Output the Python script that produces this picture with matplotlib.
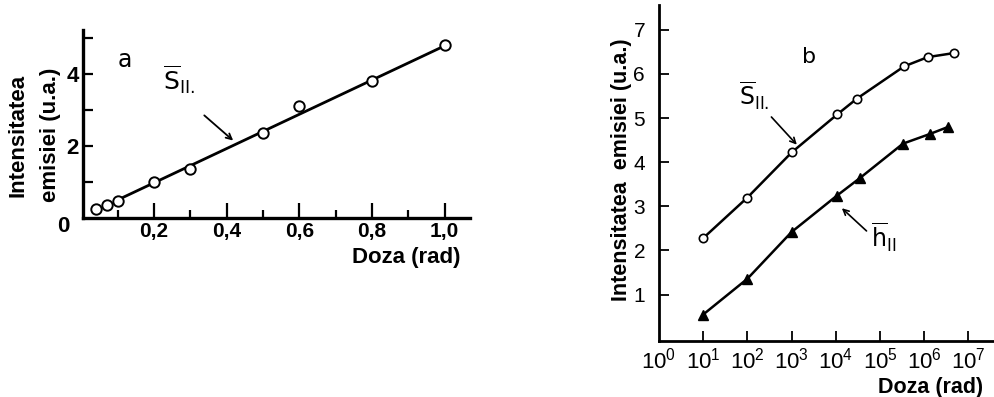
import matplotlib
matplotlib.use("Agg")
import matplotlib.pyplot as plt
from matplotlib.ticker import FixedLocator, NullLocator

# panel a: emission intensity vs dose (linear)
a_dose = [0.04, 0.07, 0.1, 0.2, 0.3, 0.5, 0.6, 0.8, 1.0]
a_s = [0.25, 0.35, 0.48, 1.0, 1.36, 2.35, 3.1, 3.8, 4.8]
a_fit_dose = [0.1, 1.0]
a_fit_s = [0.5, 4.78]
a_xticks = [0.2, 0.4, 0.6, 0.8, 1.0]
a_xticklabels = ["0,2", "0,4", "0,6", "0,8", "1,0"]
a_yticks = [2, 4]

# panel b: emission intensity vs dose (log)
b_dose_s = [1e1, 1e2, 1e3, 1.07e4, 3.0e4, 3.5e5, 1.2e6, 4.6e6]
b_s = [2.28, 3.2, 4.22, 5.08, 5.44, 6.17, 6.38, 6.47]
b_dose_h = [1e1, 1e2, 1e3, 1.05e4, 3.5e4, 3.3e5, 1.35e6, 3.5e6]
b_h = [0.55, 1.36, 2.42, 3.24, 3.64, 4.42, 4.64, 4.8]
b_xticks = [1e1, 1e2, 1e3, 1e4, 1e5, 1e6, 1e7]
b_xlabel_pos = [1e0, 1e1, 1e2, 1e3, 1e4, 1e5, 1e6, 1e7]
b_yticks = [1, 2, 3, 4, 5, 6, 7]

BOLD = "Liberation Sans"
THIN = "Liberation Sans"

W, H = 995, 397
fig = plt.figure(figsize=(W / 100, H / 100), dpi=100)
fig.patch.set_facecolor("white")


def px(x0, y0, x1, y1):
    # pixel box -> figure fraction rect
    return [x0 / W, 1 - y1 / H, (x1 - x0) / W, (y1 - y0) / H]


# ---- panel a ----
ax = fig.add_axes(px(83, 30, 470, 218))
ax.plot(a_fit_dose, a_fit_s, color="black", lw=2.0, zorder=2)
ax.plot(a_dose, a_s, "o", mfc="white", mec="black", mew=1.4, ms=7.5, zorder=3)
ax.set_xlim(0.005, 1.07)
ax.set_ylim(0, 5.22)
for s in ["top", "right"]:
    ax.spines[s].set_visible(False)
for s in ["left", "bottom"]:
    ax.spines[s].set_linewidth(2.4)
ax.xaxis.set_major_locator(FixedLocator(a_xticks))
ax.xaxis.set_minor_locator(FixedLocator([0.1, 0.3, 0.5, 0.7, 0.9]))
ax.set_xticklabels(a_xticklabels, fontfamily=BOLD, fontweight="bold", fontsize=15)
ax.yaxis.set_major_locator(FixedLocator(a_yticks))
ax.yaxis.set_minor_locator(FixedLocator([1, 3, 5]))
ax.set_yticklabels([str(v) for v in a_yticks], fontfamily=BOLD, fontweight="bold", fontsize=16)
ax.tick_params(axis="x", which="major", direction="in", length=11, width=1.6, pad=3)
ax.tick_params(axis="x", which="minor", direction="in", length=6, width=1.6)
ax.tick_params(axis="y", which="both", direction="in", length=7, width=1.6, pad=3)
ax.text(-0.035, -0.045, "0", transform=ax.transAxes, ha="right", va="center",
        fontfamily=BOLD, fontweight="bold", fontsize=16)
ax.text(0.12, 4.4, "a", fontsize=17, ha="center", va="center", fontfamily="DejaVu Sans")
ax.annotate("", xy=(0.424, 2.1), xytext=(0.333, 2.9),
            arrowprops=dict(arrowstyle="->", color="black", lw=1.3))
ax.text(0.225, 3.85, r"$\overline{\mathrm{S}}_{\mathrm{II.}}$", fontsize=18, ha="left", va="center")

fig.text(18 / W, 1 - 135 / H, "Intensitatea", rotation=90, ha="center", va="center",
         fontfamily=BOLD, fontweight="bold", fontsize=16)
fig.text(51 / W, 1 - 135 / H, "emisiei (u.a.)", rotation=90, ha="center", va="center",
         fontfamily=BOLD, fontweight="bold", fontsize=16)
fig.text(461 / W, 1 - 257 / H, "Doza (rad)", ha="right", va="center",
         fontfamily=BOLD, fontweight="bold", fontsize=16)

# ---- panel b ----
bx = fig.add_axes(px(659, 5, 995, 341))
bx.plot(b_dose_s, b_s, "-o", color="black", lw=1.8, mfc="white", mec="black", mew=1.2, ms=6)
bx.plot(b_dose_h, b_h, "-^", color="black", lw=1.8, mfc="black", mec="black", ms=7.5)
bx.set_xscale("log")
bx.set_xlim(1, 10 ** 7.6)
bx.set_ylim(-0.05, 7.56)
for s in ["top", "right"]:
    bx.spines[s].set_visible(False)
for s in ["left", "bottom"]:
    bx.spines[s].set_linewidth(2.0)
bx.xaxis.set_major_locator(FixedLocator(b_xticks))
bx.xaxis.set_minor_locator(NullLocator())
bx.set_xticklabels([])
bx.yaxis.set_major_locator(FixedLocator(b_yticks))
bx.set_yticklabels([str(v) for v in b_yticks], fontfamily=THIN, fontsize=15)
bx.tick_params(axis="x", direction="in", length=7, width=1.3)
bx.tick_params(axis="y", direction="in", length=7, width=1.3, pad=10)
for k, xv in enumerate(b_xlabel_pos):
    bx.text(xv, -0.2, r"$\mathregular{10^{%d}}$" % k, ha="center", va="top",
            fontfamily=THIN, fontsize=16)
bx.text(10 ** 3.4, 6.38, "b", fontsize=16, ha="center", va="center", fontfamily="DejaVu Sans")
bx.annotate("", xy=(10 ** 3.16, 4.35), xytext=(10 ** 2.5, 5.07),
            arrowprops=dict(arrowstyle="->", color="black", lw=1.2))
bx.text(10 ** 1.8, 5.5, r"$\overline{\mathrm{S}}_{\mathrm{II.}}$", fontsize=17, ha="left", va="center")
bx.annotate("", xy=(10 ** 4.09, 3.0), xytext=(10 ** 4.74, 2.4),
            arrowprops=dict(arrowstyle="->", color="black", lw=1.2))
bx.text(10 ** 4.8, 2.3, r"$\overline{\mathrm{h}}_{\mathrm{II}}$", fontsize=17, ha="left", va="center")

fig.text(622 / W, 1 - 170 / H, "Intensitatea  emisiei (u.a.)", rotation=90, ha="center",
         va="center", fontfamily=BOLD, fontweight="bold", fontsize=15.5)
fig.text(983 / W, 1 - 387 / H, "Doza (rad)", ha="right", va="center",
         fontfamily=BOLD, fontweight="bold", fontsize=15.5)

fig.savefig("out.png", dpi=100, facecolor="white")
